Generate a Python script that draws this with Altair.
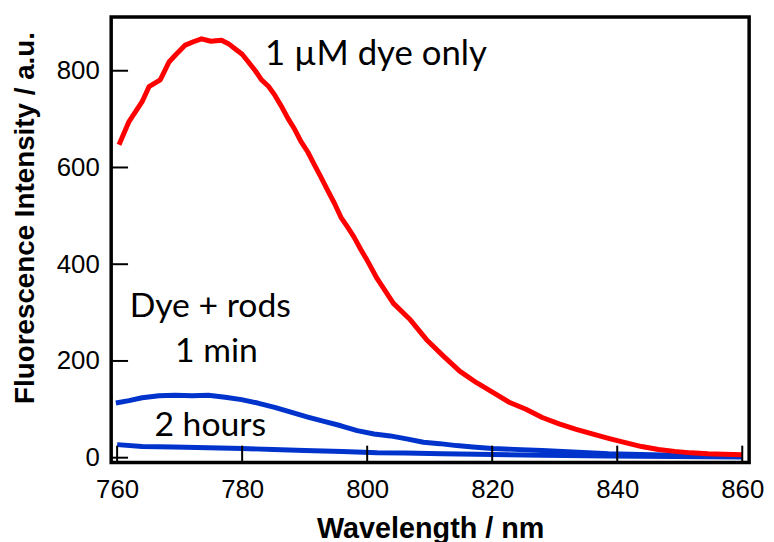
import altair as alt
import pandas as pd

# --- data ---
red_wl = [760.3, 761.9, 764.0, 765.1, 766.9, 768.3, 769.3, 770.9, 772.2, 773.5, 775.0, 776.7, 777.8,
          778.8, 780.0, 781.0, 782.1, 783.1, 784.2, 785.2, 786.3, 787.3, 788.4, 789.4, 790.5, 791.5,
          792.6, 793.7, 794.8, 795.8, 796.9, 797.9, 799.0, 800.0, 801.6, 804.2, 806.9, 809.5, 812.2,
          814.8, 817.5, 820.1, 822.8, 825.4, 828.0, 830.7, 833.3, 836.0, 838.6, 841.3, 843.9, 846.6,
          849.2, 851.8, 854.5, 857.1, 860.0]
red_val = [647, 695, 736, 767, 781, 818, 832, 853, 860, 866, 861, 863, 856,
           846, 834, 818, 800, 781, 768, 750, 726, 702, 679, 654, 632, 607,
           580, 552, 525, 497, 476, 456, 430, 408, 370, 319, 285, 244, 210,
           179, 155, 135, 114, 100, 83, 70, 59, 49, 40, 31, 23, 17,
           13, 10, 8, 7, 6]

min1_wl = [759.8, 761.9, 764.0, 766.7, 769.3, 772.0, 774.6, 777.3, 779.9, 782.5, 785.2, 787.8,
           790.5, 793.1, 795.8, 798.4, 801.1, 803.7, 806.3, 809.0, 811.6, 814.3, 816.9, 820.0,
           828.0, 838.6, 849.0, 860.0]
min1_val = [113, 118, 124, 128, 129, 128, 129, 125, 120, 113, 104, 94,
            84, 75, 66, 56, 49, 45, 39, 32, 29, 25, 22, 19,
            15, 8, 5, 3.5]

hr2_wl = [760.0, 764.0, 769.0, 774.6, 780.0, 785.0, 790.0, 796.0, 801.6, 806.0, 812.0, 817.5,
          828.0, 838.6, 849.0, 860.0]
hr2_val = [27, 23, 22, 20.5, 19, 17, 15, 13, 10, 9.6, 8, 7, 5, 3.5, 2.5, 1.5]

x_ticks = [760, 780, 800, 820, 840, 860]
y_ticks = [0, 200, 400, 600, 800]

note_text = ["1 \u00b5M dye only", "Dye + rods", "1 min", "2 hours"]
note_x = [801.4, 774.9, 775.9, 774.9]
note_y = [812, 291, 197, 45]
note_size = [35, 34, 34, 34]

# --- tables ---
red_df = pd.DataFrame({"wl": red_wl, "val": red_val})
min1_df = pd.DataFrame({"wl": min1_wl, "val": min1_val})
hr2_df = pd.DataFrame({"wl": hr2_wl, "val": hr2_val})
xt_df = pd.DataFrame({"v": x_ticks})
yt_df = pd.DataFrame({"v": y_ticks})
note_df = pd.DataFrame({"t": note_text, "x": note_x, "y": note_y, "s": note_size})

W, H = 643, 449
xs = alt.Scale(domain=[759.05, 861.1], nice=False, zero=False)
ys = alt.Scale(domain=[-10, 911], nice=False, zero=False)

x_axis = alt.Axis(values=x_ticks, title="Wavelength / nm", grid=False, ticks=False, domain=False,
                  labelFont="Liberation Sans", labelFontSize=26, labelColor="black",
                  labelPadding=14, labelFlush=False, labelOverlap=False,
                  titleFont="Liberation Sans", titleFontSize=29, titleFontWeight="bold",
                  titleColor="black", titleBaseline="alphabetic", titleY=76)
y_axis = alt.Axis(values=y_ticks, title="Fluorescence Intensity / a.u.", grid=False, ticks=False,
                  domain=False, labelFont="Liberation Sans", labelFontSize=26, labelColor="black",
                  labelPadding=12, labelFlush=False, labelOverlap=False,
                  titleFont="Liberation Sans", titleFontSize=28, titleFontWeight="bold",
                  titleColor="black", titleAngle=270, titleBaseline="alphabetic",
                  titleAlign="center", titleX=-78, titleY=202)

def line(df, color):
    return alt.Chart(df).mark_line(color=color, strokeWidth=5, strokeJoin="round").encode(
        x=alt.X("wl:Q", scale=xs, axis=x_axis),
        y=alt.Y("val:Q", scale=ys, axis=y_axis),
    )

red = line(red_df, "#ff0000")
blue1 = line(min1_df, "#0033cc")
blue2 = line(hr2_df, "#0033cc")

xticks = alt.Chart(xt_df).mark_rule(color="black", strokeWidth=2).encode(
    x=alt.X("v:Q", scale=xs), y=alt.value(H - 17), y2=alt.value(H))
yticks = alt.Chart(yt_df).mark_rule(color="black", strokeWidth=2).encode(
    y=alt.Y("v:Q", scale=ys), x=alt.value(0), x2=alt.value(17))

notes = alt.Chart(note_df).mark_text(font="Lato", color="black", align="center",
                                     baseline="alphabetic").encode(
    x=alt.X("x:Q", scale=xs), y=alt.Y("y:Q", scale=ys), text="t:N",
    size=alt.Size("s:Q", scale=None, legend=None))

chart = alt.layer(blue2, blue1, red, xticks, yticks, notes).properties(
    width=W, height=H,
    autosize=alt.AutoSizeParams(type="none"),
    padding={"left": 104, "top": 7, "right": 17, "bottom": 80},
    background="white",
).configure_view(stroke="black", strokeWidth=3.5)

chart.save("out.html", embed_options={"renderer": "svg", "actions": False})
